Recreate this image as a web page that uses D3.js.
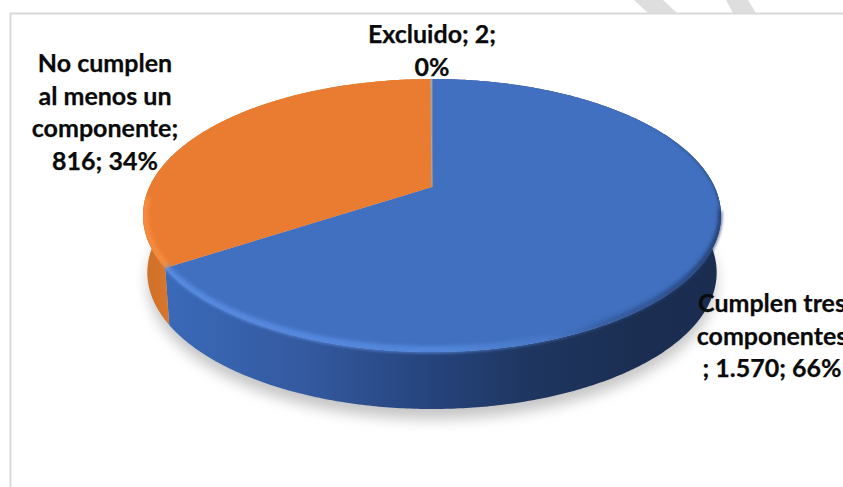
<!DOCTYPE html>
<html>
<head>
<meta charset="utf-8">
<script src="https://cdn.jsdelivr.net/npm/d3@7"></script>
<style>
html, body { margin: 0; padding: 0; background: #fff; overflow: hidden; }
text { font-family: Lato, "Open Sans", sans-serif; font-weight: 700; font-size: 25px; fill: #0a0a0a; stroke: #0a0a0a; stroke-width: 0.25px; }
</style>
</head>
<body>
<div id="chart"></div>
<script>
// data
var categories = ["Cumplen tres componentes", "No cumplen al menos un componente", "Excluido"];
var values = [1570, 816, 2];
var colors = ["#4170c0", "#ea7c31", "#a5a5a5"];
var labelLines = [
	["Cumplen tres", "componentes", "; 1.570; 66%"],
	["No cumplen", "al menos un", "componente;", "816; 34%"],
	["Excluido; 2;", "0%"]
];

var width = 843, height = 487;
var cx = 432, topY = 79, vertexY = 187, frontY = 352, rx = 289, depth = 57;
var labelPos = [{x: 772, y: 312}, {x: 105, y: 72}, {x: 432, y: 43}];

// perspective of the tilted disc: centre of the pie is not the centre of the ellipse
var c = -((frontY - vertexY) - (vertexY - topY)) / (frontY - topY);
var a = (vertexY - topY) + topY * c;
var K = rx * Math.sqrt(1 - c * c);

function project(angle, r) {
	var u = r * Math.sin(angle), v = -r * Math.cos(angle);
	var w = 1 + c * v;
	return [cx + K * u / w, (a * v + vertexY) / w];
}

// dy > 0 is the lower rim, which is a bit narrower than the top one
function arcPoints(a0, a1, dy) {
	var n = Math.max(2, Math.ceil(Math.abs(a1 - a0) / 0.01));
	var shrink = 1 - 0.015 * dy / depth;
	return d3.range(n + 1).map(function(i) {
		var p = project(a0 + (a1 - a0) * i / n, 1);
		return [cx + (p[0] - cx) * shrink, p[1] + dy];
	});
}

var line = d3.line();

var svg = d3.select("#chart").append("svg")
	.attr("width", width)
	.attr("height", height)
	.style("display", "block");

var defs = svg.append("defs");

function blur(id, s) {
	defs.append("filter").attr("id", id)
		.attr("x", "-20%").attr("y", "-20%").attr("width", "140%").attr("height", "140%")
		.append("feGaussianBlur").attr("stdDeviation", s);
}
blur("shadowBlur", 7);
blur("rimBlur", 2.2);
blur("edgeBlur", 1.6);

function gradient(id, x1, x2, stops) {
	var g = defs.append("linearGradient").attr("id", id)
		.attr("gradientUnits", "userSpaceOnUse")
		.attr("x1", x1).attr("x2", x2).attr("y1", 0).attr("y2", 0);
	stops.forEach(function(s) {
		g.append("stop").attr("offset", s[0]).attr("stop-color", s[1]).attr("stop-opacity", s[2] === undefined ? 1 : s[2]);
	});
}
gradient("sideBlue", 170, 720, [[0, "#3a69b8"], [0.25, "#34599f"], [0.45, "#274680"], [0.65, "#1e3660"], [0.85, "#1b2e52"], [1, "#1a2d50"]]);
gradient("sideOrange", 143, 175, [[0, "#cf7029"], [1, "#d9772c"]]);
gradient("rimBlue", 170, 720, [[0, "#5c92ea"], [0.5, "#5a90e6"], [0.68, "#4d7fcf", 0.7], [0.8, "#2c4f8c", 0.7], [1, "#21396a"]]);
gradient("edgeFade", 640, 712, [[0, "#2b4a85", 0], [1, "#2b4a85", 1]]);

// frame and the grey stripes of the page behind it
svg.append("path").attr("d", "M634,0L663,0L677,13L648,13Z").attr("fill", "#dedede");
svg.append("path").attr("d", "M726,0L748,0L756,13L733,13Z").attr("fill", "#dedede");
svg.append("path")
	.attr("d", "M10.5," + height + "V13.5H" + width)
	.attr("fill", "none").attr("stroke", "#d9d9d9").attr("stroke-width", 2);

var pie = d3.pie().sort(null).value(function(d) { return d; });
var slices = pie(values);
var full = Math.PI * 2;

// the highlights must not bleed off the disc
defs.append("clipPath").attr("id", "discClip").append("path")
	.attr("d", line(arcPoints(0, full, 0)) + "Z");

// soft shadow under the disc
svg.append("path")
	.attr("d", line(arcPoints(0, full, depth + 10)) + "Z")
	.attr("fill", "#8c8c8c")
	.attr("opacity", 0.5)
	.attr("filter", "url(#shadowBlur)");

// side wall, one piece per slice
var sideFill = ["url(#sideBlue)", "url(#sideOrange)", "#8a8a8a"];
svg.selectAll(".side")
	.data(slices)
	.enter().append("path")
	.attr("class", "side")
	.attr("fill", function(d, i) { return sideFill[i]; })
	.attr("d", function(d) {
		var top = arcPoints(d.startAngle, d.endAngle, 0);
		var bottom = arcPoints(d.endAngle, d.startAngle, depth);
		return line(top.concat(bottom)) + "Z";
	});

// top face, the tiny slice gets a hairline so it still shows
svg.selectAll(".slice")
	.data(slices)
	.enter().append("path")
	.attr("class", "slice")
	.attr("fill", function(d, i) { return colors[i]; })
	.attr("stroke", function(d, i) { return i == 2 ? colors[i] : "none"; })
	.attr("stroke-width", 0.8)
	.attr("d", function(d) {
		return line([project(0, 0)].concat(arcPoints(d.startAngle, d.endAngle, 0))) + "Z";
	});

// bevel along the rim, blurred and kept a little inside the edge
var blue = slices[0], orange = slices[1];
svg.append("g").attr("clip-path", "url(#discClip)")
	.append("path")
	.attr("d", line(arcPoints(blue.startAngle + 1.75, blue.endAngle, -3)))
	.attr("fill", "none")
	.attr("stroke", "url(#rimBlue)")
	.attr("stroke-width", 4)
	.attr("filter", "url(#rimBlur)");
svg.append("path")
	.attr("d", line(arcPoints(blue.startAngle + 1.75, blue.endAngle, 0)))
	.attr("fill", "none")
	.attr("stroke", "url(#rimBlue)")
	.attr("stroke-width", 2)
	.attr("filter", "url(#edgeBlur)");
svg.append("g").attr("clip-path", "url(#discClip)")
	.append("path")
	.attr("d", line(arcPoints(orange.startAngle, orange.startAngle + 0.5, 0).map(function(p) { return [p[0] + 2, p[1] - 1]; })))
	.attr("fill", "none")
	.attr("stroke", "#f98f42")
	.attr("stroke-width", 5)
	.attr("filter", "url(#rimBlur)");
// dark soft edge on the right of the disc
svg.append("g").attr("clip-path", "url(#discClip)")
	.append("path")
	.attr("d", line(arcPoints(0.55, 2.0, 0)))
	.attr("fill", "none")
	.attr("stroke", "url(#edgeFade)")
	.attr("stroke-width", 2.4)
	.attr("filter", "url(#edgeBlur)");

// labels
svg.selectAll(".label")
	.data(categories)
	.enter().append("text")
	.attr("class", "label")
	.attr("aria-label", function(d) { return d; })
	.attr("text-anchor", "middle")
	.each(function(d, i) {
		d3.select(this).selectAll("tspan")
			.data(labelLines[i])
			.enter().append("tspan")
			.attr("x", labelPos[i].x)
			.attr("y", function(t, j) { return labelPos[i].y + j * 32.7; })
			.text(function(t) { return t; });
	});
</script>
</body>
</html>
